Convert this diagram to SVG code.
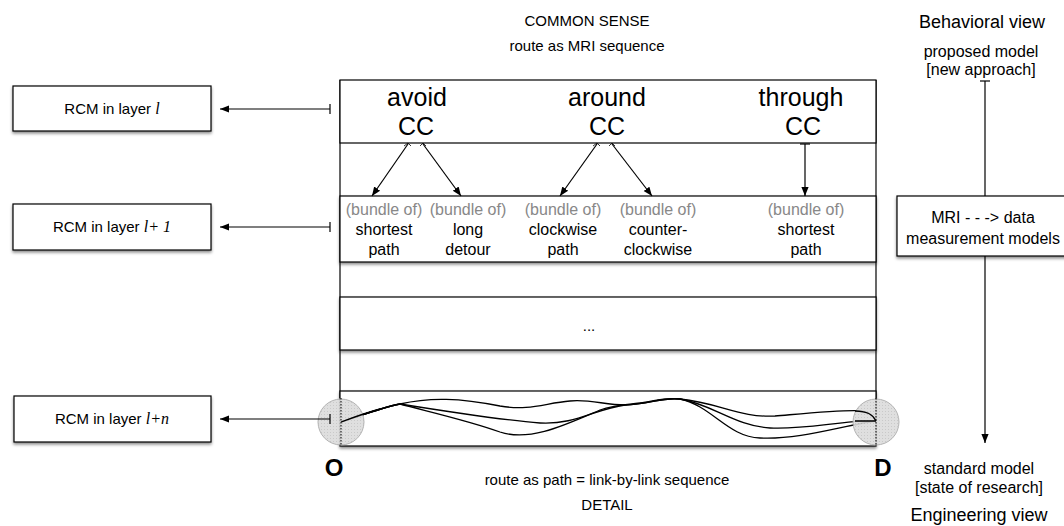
<svg xmlns="http://www.w3.org/2000/svg" width="1064" height="526" viewBox="0 0 1064 526">
<style>
text{font-family:"Liberation Sans",Arial,sans-serif;fill:#000}
.s13{font-size:15px}
.s14{font-size:16px}
.big{font-size:25px}
.g{fill:#888}
.it{font-family:"Liberation Serif","Times New Roman",serif;font-style:italic}
.box{fill:#fff;stroke:#000;stroke-width:1.2}
.ln{stroke:#000;stroke-width:1.2;fill:none}
.path{stroke:#000;stroke-width:1.3;fill:none}
</style>
<defs>
<filter id="sh" x="-5%" y="-20%" width="110%" height="150%">
<feDropShadow dx="0" dy="2" stdDeviation="1.5" flood-color="#000" flood-opacity="0.45"/>
</filter>
<marker id="ah" viewBox="0 0 10 10" refX="10" refY="5" markerWidth="9" markerHeight="9" orient="auto" markerUnits="userSpaceOnUse">
<path d="M0,1 L10,5 L0,9 z" fill="#000"/>
</marker>
<marker id="tk" viewBox="0 0 2 10" refX="1" refY="5" markerWidth="2" markerHeight="10" orient="auto" markerUnits="userSpaceOnUse">
<path d="M1,0 L1,10" stroke="#000" stroke-width="1.2"/>
</marker>
<pattern id="dots" width="3" height="3" patternUnits="userSpaceOnUse">
<rect width="3" height="3" fill="#dcdcdc"/>
<rect width="1" height="1" fill="#c4c4c4"/>
</pattern>
</defs>

<g id="titles">
<text class="s13" x="587" y="26" text-anchor="middle">COMMON SENSE</text>
<text class="s13" x="587" y="51" text-anchor="middle">route as MRI sequence</text>
<text class="s13" x="607" y="485" text-anchor="middle">route as path = link-by-link sequence</text>
<text class="s13" x="607" y="510" text-anchor="middle">DETAIL</text>
<text x="982" y="28" text-anchor="middle" style="font-size:18px">Behavioral view</text>
<text class="s14" x="981" y="57" text-anchor="middle">proposed model</text>
<text class="s14" x="981" y="75" text-anchor="middle">[new approach]</text>
<text class="s14" x="979" y="474" text-anchor="middle">standard model</text>
<text class="s14" x="979" y="493" text-anchor="middle">[state of research]</text>
<text x="979" y="521" text-anchor="middle" style="font-size:18px">Engineering view</text>
</g>

<g id="frame">
<line class="ln" x1="340" y1="80" x2="340" y2="398"/>
<line class="ln" x1="876" y1="80" x2="876" y2="398"/>
</g>

<g id="row-common-sense">
<rect class="box" x="340" y="80" width="536" height="63"/>
<text class="big" x="417" y="106" text-anchor="middle">avoid</text>
<text class="big" x="416" y="135" text-anchor="middle">CC</text>
<text class="big" x="607" y="106" text-anchor="middle">around</text>
<text class="big" x="607" y="135" text-anchor="middle">CC</text>
<text class="big" x="801" y="106" text-anchor="middle">through</text>
<text class="big" x="803" y="135" text-anchor="middle">CC</text>
</g>

<g id="row-bundles">
<rect class="box" x="340" y="196" width="536" height="66" filter="url(#sh)"/>
<text class="s14 g" x="384" y="215" text-anchor="middle">(bundle of)</text>
<text class="s14" x="384" y="235" text-anchor="middle">shortest</text>
<text class="s14" x="384" y="255" text-anchor="middle">path</text>
<text class="s14 g" x="468" y="215" text-anchor="middle">(bundle of)</text>
<text class="s14" x="468" y="235" text-anchor="middle">long</text>
<text class="s14" x="468" y="255" text-anchor="middle">detour</text>
<text class="s14 g" x="563" y="215" text-anchor="middle">(bundle of)</text>
<text class="s14" x="563" y="235" text-anchor="middle">clockwise</text>
<text class="s14" x="563" y="255" text-anchor="middle">path</text>
<text class="s14 g" x="658" y="215" text-anchor="middle">(bundle of)</text>
<text class="s14" x="658" y="235" text-anchor="middle">counter-</text>
<text class="s14" x="658" y="255" text-anchor="middle">clockwise</text>
<text class="s14 g" x="806" y="215" text-anchor="middle">(bundle of)</text>
<text class="s14" x="806" y="235" text-anchor="middle">shortest</text>
<text class="s14" x="806" y="255" text-anchor="middle">path</text>
</g>

<g id="row-dots">
<rect class="box" x="340" y="297" width="536" height="53" filter="url(#sh)"/>
<text class="s13" x="589" y="331" text-anchor="middle">...</text>
</g>

<g id="row-paths">
<rect class="box" x="340" y="391" width="536" height="55" filter="url(#sh)"/>
<path class="path" d="M341,422 C360,416 380,408 400,404 C430,397 460,398 500,406 C530,411 545,403 570,401 C590,399 605,405 625,405 C650,404 662,397 680,399 C720,403 740,418 775,416 C810,413 850,409 862,411 C872,413 874,418 876,421"/>
<path class="path" d="M341,422 C360,416 380,408 400,404 C450,412 500,420 540,423 C575,425 595,409 625,405 C650,404 662,397 680,399 C712,404 735,426 770,428 C805,430 845,420 876,421"/>
<path class="path" d="M341,422 C360,416 380,408 400,404 C430,412 470,421 500,432 C530,442 565,425 600,410 C615,405 625,405 640,403 C655,401 665,397 680,399 C712,406 728,437 760,438 C800,440 845,425 876,421"/>
</g>

<g id="node-O">
<circle cx="341" cy="422" r="23" fill="url(#dots)" stroke="#aaa" stroke-width="1" opacity="0.9"/>
<line x1="341" y1="398" x2="341" y2="446" stroke="#000" stroke-width="1" stroke-dasharray="1.5,1.5"/>
<path class="path" d="M341,422 C352,418 365,413 380,409"/>
<text x="334" y="476" text-anchor="middle" style="font-size:24px;font-weight:bold">O</text>
</g>

<g id="node-D">
<circle cx="876" cy="422" r="23" fill="url(#dots)" stroke="#aaa" stroke-width="1" opacity="0.9"/>
<line x1="876" y1="398" x2="876" y2="446" stroke="#000" stroke-width="1" stroke-dasharray="1.5,1.5"/>
<path class="path" d="M855,411 C868,411 873,415 876,421 M855,421 L876,421"/>
<text x="883" y="476" text-anchor="middle" style="font-size:24px;font-weight:bold">D</text>
</g>

<g id="node-rcm-l">
<rect class="box" x="13" y="86" width="198" height="45" filter="url(#sh)"/>
<text class="s13" x="112" y="114" text-anchor="middle">RCM in layer <tspan class="it" style="font-size:16px">l</tspan></text>
</g>
<g id="node-rcm-l1">
<rect class="box" x="13" y="204" width="198" height="46" filter="url(#sh)"/>
<text class="s13" x="112" y="232" text-anchor="middle">RCM in layer <tspan class="it" style="font-size:16px">l+ 1</tspan></text>
</g>
<g id="node-rcm-ln">
<rect class="box" x="14" y="396" width="197" height="46" filter="url(#sh)"/>
<text class="s13" x="112" y="424" text-anchor="middle">RCM in layer <tspan class="it" style="font-size:16px">l+n</tspan></text>
</g>
<g id="node-mri">
<rect class="box" x="897" y="196" width="170" height="60" filter="url(#sh)"/>
<text class="s14" x="983" y="223" text-anchor="middle">MRI - - -&gt; data</text>
<text class="s14" x="983" y="244" text-anchor="middle">measurement models</text>
</g>

<g id="connectors">
<line class="ln" x1="330" y1="109" x2="220" y2="109" marker-start="url(#tk)" marker-end="url(#ah)"/>
<line class="ln" x1="330" y1="227" x2="220" y2="227" marker-start="url(#tk)" marker-end="url(#ah)"/>
<line class="ln" x1="330" y1="419" x2="220" y2="419" marker-start="url(#tk)" marker-end="url(#ah)"/>
<line class="ln" x1="985" y1="81" x2="985" y2="196" marker-start="url(#tk)"/>
<line class="ln" x1="985" y1="256" x2="985" y2="443" marker-end="url(#ah)"/>
<line class="ln" x1="408" y1="144" x2="372" y2="196" marker-end="url(#ah)"/>
<line class="ln" x1="423" y1="144" x2="461" y2="196" marker-end="url(#ah)"/>
<line class="ln" x1="597" y1="144" x2="560" y2="196" marker-end="url(#ah)"/>
<line class="ln" x1="612" y1="144" x2="652" y2="196" marker-end="url(#ah)"/>
<line class="ln" x1="805" y1="144" x2="805" y2="196" marker-start="url(#tk)" marker-end="url(#ah)"/>
<path d="M404,146 L408,143 L411,146 M420,146 L423,143 L426,146 M593,146 L597,143 L600,146 M609,146 L612,143 L615,146" stroke="#000" stroke-width="0.8" fill="none"/>
</g>
</svg>
